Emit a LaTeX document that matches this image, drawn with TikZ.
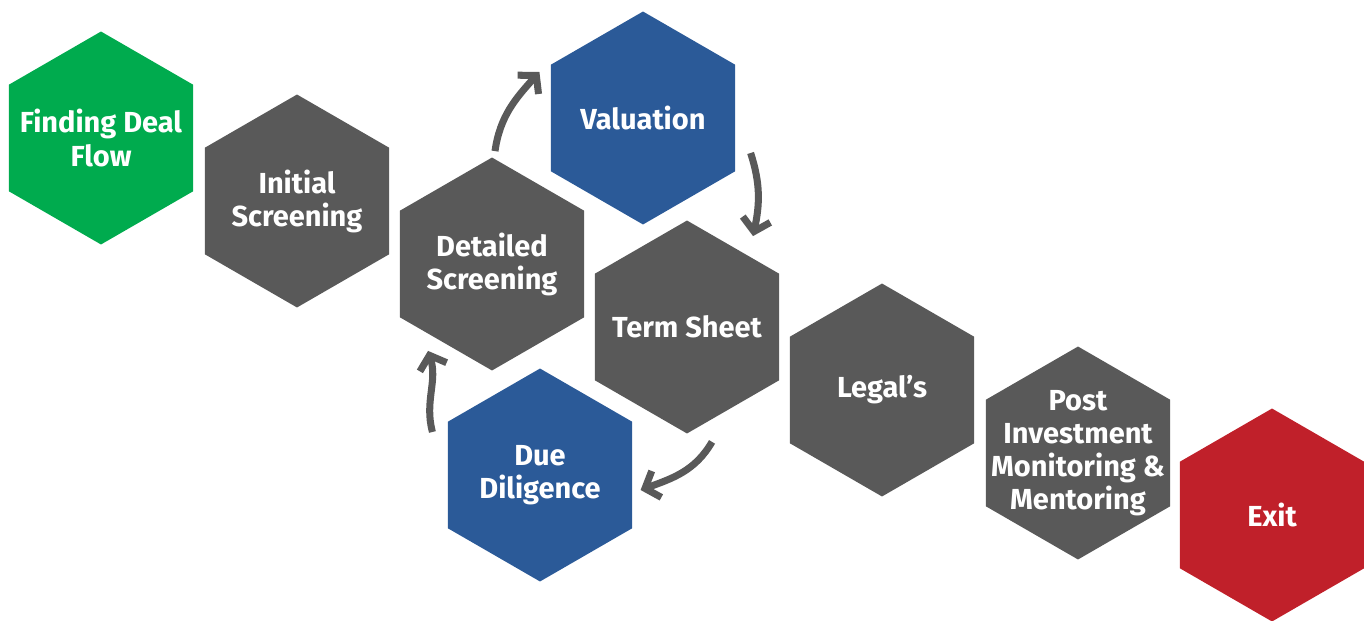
\documentclass[tikz,border=0pt]{standalone}
\usepackage{fontspec}
\setmainfont{Fira Sans}
\usetikzlibrary{shapes.geometric,arrows.meta}
\definecolor{stepgreen}{HTML}{00AB4E}
\definecolor{stepgray}{HTML}{595959}
\definecolor{stepblue}{HTML}{2B5A98}
\definecolor{stepred}{HTML}{C0202A}

\begin{document}
\begin{tikzpicture}[x=0.02cm,y=-0.02cm,
    hexa/.style={regular polygon,regular polygon sides=6,shape border rotate=30,
      minimum size=4.26cm,inner sep=-40pt,fill=#1,text=white,align=center,
      font=\bfseries\fontsize{16.5}{18.8}\selectfont},
    cyclearrow/.style={line width=4pt,draw=stepgray,
      -{Straight Barb[length=7pt,width=16pt]}}]
    \useasboundingbox (0,0) rectangle (1364,621);
    % the hexagons
    \node[hexa=stepgreen] (find) at (101,138) {Finding Deal\\Flow};
    \node[hexa=stepgray]  (init) at (297,201) {Initial\\Screening};
    \node[hexa=stepgray]  (detail) at (492,264) {Detailed\\Screening};
    \node[hexa=stepblue]  (value) at (643,118) {Valuation};
    \node[hexa=stepgray]  (term) at (687,327) {Term Sheet};
    \node[hexa=stepblue]  (due) at (540,475) {Due\\Diligence};
    \node[hexa=stepgray]  (legal) at (882,390) {Legal’s};
    \node[hexa=stepgray]  (post) at (1078,453) {Post\\Investment\\Monitoring \&\\Mentoring};
    \node[hexa=stepred]   (exit) at (1272,515) {Exit};
    % the loop of arrows
    \draw[cyclearrow] ([shift={(3,-6)}]detail.north) to[out=82,in=228] ([shift={(-11,-46)}]value.west);
    \draw[cyclearrow] ([shift={(15,35)}]value.east) to[out=-72,in=78] ([shift={(66,16)}]term.north);
    \draw[cyclearrow] ([shift={(25,8)}]term.south) to[out=-120,in=20] ([shift={(8,15)}]due.east);
    \draw[cyclearrow] ([shift={(-15,-43)}]due.west) to[out=105,in=-72] ([shift={(-64,-20)}]detail.south);
\end{tikzpicture}
\end{document}
